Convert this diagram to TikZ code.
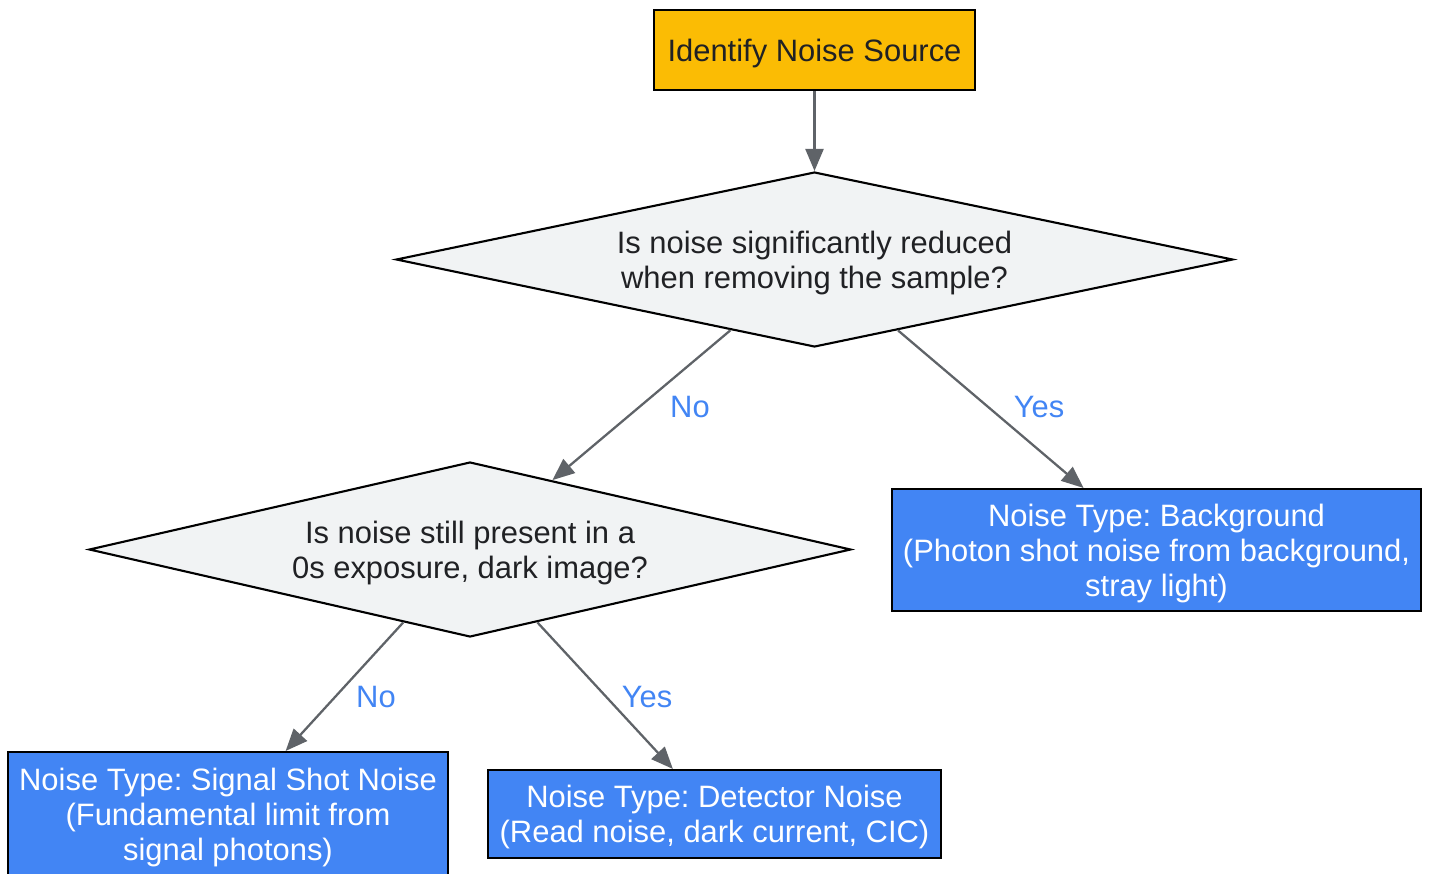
\documentclass[tikz,border=0pt]{standalone}
\usepackage{fontspec}
\setmainfont{Liberation Sans}
\frenchspacing
\usepackage{tikz}
\usetikzlibrary{shapes.geometric,arrows.meta}
\definecolor{gyellow}{HTML}{FBBC04}
\definecolor{gblue}{HTML}{4285F4}
\definecolor{ggrey}{HTML}{F1F3F4}
\definecolor{garrow}{HTML}{5F6368}
\definecolor{gtext}{HTML}{202124}
\tikzstyle{mytext}=[font=\fontsize{17.6}{19.9}\selectfont,align=center,text depth=0pt]
\tikzstyle{startbox}=[mytext,draw=black,line width=1.2pt,fill=gyellow,text=gtext,inner sep=0pt]
\tikzstyle{decision}=[mytext,diamond,draw=black,line width=1.2pt,fill=ggrey,text=gtext,inner sep=0pt,shape aspect=4.8]
\tikzstyle{result}=[mytext,draw=black,line width=1.2pt,fill=gblue,text=white,inner sep=0pt]
\tikzstyle{myarrow}=[line width=1.3pt,draw=garrow,-{Triangle[length=0.44cm,width=0.36cm]}]
\tikzstyle{answer}=[mytext,text=gblue,inner sep=1pt]

\begin{document}
\begin{tikzpicture}[x=0.02cm,y=-0.02cm]
		\useasboundingbox (0,0) rectangle (1430,873);

		\node[startbox,minimum width=6.42cm,minimum height=1.6cm] (start) at (814.5,50) {Identify Noise Source};
		\node[decision,minimum width=16.74cm,minimum height=3.5cm] (q1) at (814.5,259.5) {Is noise significantly reduced\\when removing the sample?};
		\node[decision,minimum width=15.24cm,minimum height=3.5cm] (q2) at (470,549.5) {Is noise still present in a\\0s exposure, dark image?};
		\node[result,minimum width=10.58cm,minimum height=2.44cm] (bg) at (1156.5,550) {Noise Type: Background\\(Photon shot noise from background,\\stray light)};
		\node[result,minimum width=8.8cm,minimum height=2.48cm] (shot) at (228,814) {Noise Type: Signal Shot Noise\\(Fundamental limit from\\signal photons)};
		\node[result,minimum width=9.06cm,minimum height=1.76cm] (det) at (714.5,814) {Noise Type: Detector Noise\\(Read noise, dark current, CIC)};

		\draw[myarrow] (start) -- (q1);
		\draw[myarrow] (q1) -- (q2);
		\draw[myarrow] (q1) -- (bg);
		\draw[myarrow] (q2) -- (shot);
		\draw[myarrow] (q2) -- (det);

		\node[answer] (no1) at (690,407) {No};
		\node[answer] (yes1) at (1039,407) {Yes};
		\node[answer] (no2) at (376,697) {No};
		\node[answer] (yes2) at (647,697) {Yes};
	\end{tikzpicture}
\end{document}
